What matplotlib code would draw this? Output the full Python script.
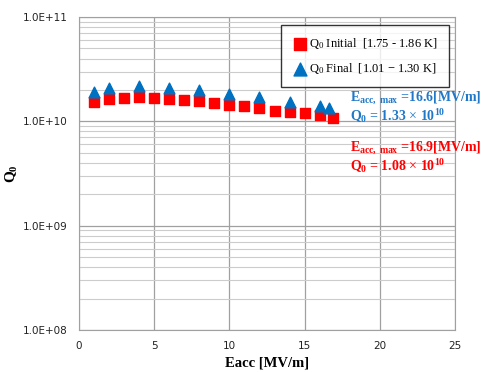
import numpy as np
import matplotlib.pyplot as plt
from matplotlib.ticker import LogLocator, FixedLocator, FuncFormatter

plt.rcParams['mathtext.fontset'] = 'custom'
plt.rcParams['mathtext.rm'] = 'Liberation Serif'
plt.rcParams['mathtext.it'] = 'Liberation Serif:italic'
plt.rcParams['mathtext.bf'] = 'Liberation Serif:bold'

# Q0 vs Eacc data
eacc_initial = [1, 2, 3, 4, 5, 6, 7, 8, 9, 10, 11, 12, 13, 14, 15, 16, 16.9]
q0_initial = [1.53e10, 1.64e10, 1.68e10, 1.70e10, 1.68e10, 1.65e10, 1.61e10, 1.57e10,
              1.51e10, 1.44e10, 1.39e10, 1.34e10, 1.27e10, 1.24e10, 1.20e10, 1.15e10, 1.08e10]
eacc_final = [1, 2, 4, 6, 8, 10, 12, 14, 16, 16.6]
q0_final = [1.90e10, 2.10e10, 2.18e10, 2.10e10, 2.00e10, 1.84e10, 1.71e10, 1.54e10, 1.39e10, 1.33e10]

label_initial = r"Q$_0$ Initial  [1.75 - 1.86 K]"
label_final = r"Q$_0$ Final  [1.01 $-$ 1.30 K]"

fig = plt.figure(figsize=(4.85, 3.72), dpi=100)
ax = fig.add_axes([79 / 485, 42 / 372, 376 / 485, 313 / 372])

ax.scatter(eacc_initial, q0_initial, marker='s', s=45, color='#ff0000', label=label_initial, zorder=3)
ax.scatter(eacc_final, q0_final, marker='^', s=60, color='#0070c0', label=label_final, zorder=3)

ax.set_yscale('log')
ax.set_xlim(0, 25)
ax.set_ylim(1e8, 1e11)
ax.xaxis.set_major_locator(FixedLocator([0, 5, 10, 15, 20, 25]))
ax.yaxis.set_major_locator(LogLocator(base=10, numticks=10))
ax.yaxis.set_minor_locator(LogLocator(base=10, subs=np.arange(2, 10), numticks=20))
ax.yaxis.set_minor_formatter(FuncFormatter(lambda v, p: ''))
ax.yaxis.set_major_formatter(FuncFormatter(lambda v, p: '1.0E+%02d' % round(np.log10(v))))

ax.grid(True, which='major', color='#a0a0a0', lw=0.9)
ax.grid(True, which='minor', axis='y', color='#cccccc', lw=0.8)
ax.set_axisbelow(True)
for s in ax.spines.values():
    s.set_color('#a0a0a0')
ax.tick_params(length=0, labelsize=7.5, colors='#222222', pad=8)
ax.tick_params(axis='y', which='minor', length=0)

ax.set_xlabel('Eacc [MV/m]', family='Liberation Serif', fontweight='bold', fontsize=10.5, labelpad=4)
ax.set_ylabel(r'Q$_\mathbf{0}$', family='Liberation Serif', fontweight='bold', fontsize=11, labelpad=2)

leg = ax.legend(loc='upper right', bbox_to_anchor=(0.995, 0.987), frameon=True, fancybox=False,
                edgecolor='black', prop={'family': 'Liberation Serif', 'size': 9},
                borderpad=0.9, labelspacing=0.8, handletextpad=0.1, handlelength=1.3,
                borderaxespad=0.3, markerscale=1.2)
leg.get_frame().set_linewidth(1.0)

tkw = dict(family='Liberation Serif', fontweight='bold', fontsize=10, transform=fig.transFigure)
fig.text(350 / 485, 1 - 98 / 372, r'E$_{\mathbf{acc,\ max}}$ =16.6[MV/m]', color='#1f78c8', va='center', **tkw)
fig.text(350 / 485, 1 - 116 / 372, r'Q$_\mathbf{0}$ = 1.33 $\times$ 10$^{\mathbf{10}}$', color='#1f78c8', va='center', **tkw)
fig.text(350 / 485, 1 - 148 / 372, r'E$_{\mathbf{acc,\ max}}$ =16.9[MV/m]', color='#ff0000', va='center', **tkw)
fig.text(350 / 485, 1 - 166 / 372, r'Q$_\mathbf{0}$ = 1.08 $\times$ 10$^{\mathbf{10}}$', color='#ff0000', va='center', **tkw)

fig.savefig('out.png', dpi=100)
